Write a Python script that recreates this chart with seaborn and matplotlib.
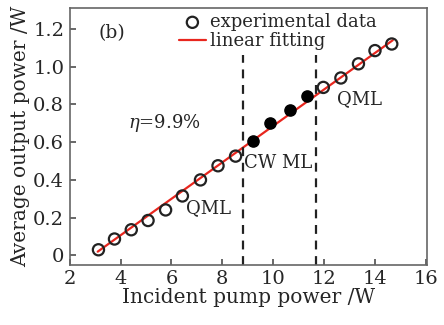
import numpy as np
import pandas as pd
import matplotlib
matplotlib.use('Agg')
import matplotlib.pyplot as plt
import seaborn as sns

# data
pump_open = [3.13, 3.76, 4.42, 5.08, 5.77, 6.43, 7.14, 7.83, 8.52,
             11.97, 12.66, 13.35, 14.0, 14.66]
power_open = [0.03, 0.087, 0.136, 0.185, 0.241, 0.315, 0.40, 0.475, 0.526,
              0.89, 0.94, 1.015, 1.085, 1.12]
pump_cw = [9.21, 9.87, 10.65, 11.31]
power_cw = [0.605, 0.70, 0.77, 0.843]
fit_x = [3.1, 14.7]
fit_y = [0.02, 1.14]
boundaries = [8.82, 11.7]

sns.set_theme(style='ticks')
plt.rcParams['font.family'] = ['DejaVu Serif']
plt.rcParams['mathtext.fontset'] = 'dejavuserif'

fig, ax = plt.subplots(figsize=(4.44, 3.25), dpi=100)
fig.subplots_adjust(left=0.157, right=0.962, top=0.975, bottom=0.185)

sns.lineplot(x=fit_x, y=fit_y, ax=ax, color='#e8261e', lw=1.6, label='linear fitting', zorder=2)
sns.scatterplot(x=pump_open, y=power_open, ax=ax, marker='o', s=65, facecolor='none',
                edgecolor='#222222', linewidth=1.6, label='experimental data', zorder=3)
sns.scatterplot(x=pump_cw, y=power_cw, ax=ax, marker='o', s=65, color='black',
                edgecolor='black', linewidth=1.0, zorder=3)

for b in boundaries:
    ax.plot([b, b], [-0.05, 1.06], ls=(0, (4, 3)), color='#222222', lw=1.6)

ax.text(3.15, 1.18, '(b)', fontsize=13.5, va='center')
ax.text(4.3, 0.70, r'$\eta$=9.9%', fontsize=13, va='center')
ax.text(7.45, 0.25, 'QML', fontsize=13, ha='center', va='center')
ax.text(10.2, 0.49, 'CW ML', fontsize=13, ha='center', va='center')
ax.text(13.4, 0.83, 'QML', fontsize=13, ha='center', va='center')

h, l = ax.get_legend_handles_labels()
ax.legend(h[::-1], l[::-1], loc='upper left', bbox_to_anchor=(0.27, 1.03), frameon=False,
          fontsize=13, handlelength=1.5, handletextpad=0.2, labelspacing=0.05, borderpad=0.2)

ax.set_xlim(2, 16.05)
ax.set_ylim(-0.05, 1.31)
ax.set_xticks([2, 4, 6, 8, 10, 12, 14, 16])
ax.set_yticks([0, 0.2, 0.4, 0.6, 0.8, 1.0, 1.2])
ax.set_yticklabels(['0', '0.2', '0.4', '0.6', '0.8', '1.0', '1.2'])
ax.tick_params(direction='in', labelsize=14, length=4, color='#555555', pad=4)
for s in ax.spines.values():
    s.set_color('#666666')
    s.set_linewidth(1.2)
ax.set_xlabel('Incident pump power /W', fontsize=14.5, labelpad=0)
ax.set_ylabel('Average output power /W', fontsize=14.5, labelpad=2)

fig.savefig('out.png', dpi=100)
